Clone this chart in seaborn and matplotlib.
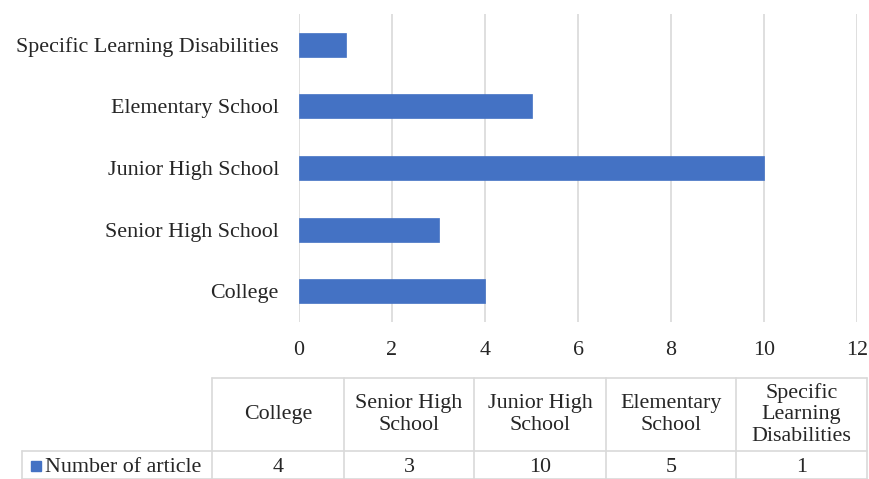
import matplotlib
matplotlib.use("Agg")
import matplotlib.pyplot as plt
from matplotlib.lines import Line2D
from matplotlib.patches import Rectangle
import seaborn as sns
import pandas as pd

# ---- data ----
categories = ["College", "Senior High School", "Junior High School",
              "Elementary School", "Specific Learning Disabilities"]
values = [4, 3, 10, 5, 1]
table_headers = ["College", "Senior High\nSchool", "Junior High\nSchool",
                 "Elementary\nSchool", "Specific\nLearning\nDisabilities"]
series_name = "Number of article"
x_ticks = [0, 2, 4, 6, 8, 10, 12]

BAR = "#4472C4"
GRID = "#D9D9D9"
FONT = "Liberation Serif"
FS = 15.8

sns.set_theme(style="white")
plt.rcParams["font.family"] = [FONT, "DejaVu Serif"]

W, H = 869, 479
fig = plt.figure(figsize=(W / 100, H / 100), dpi=100)
ax = fig.add_axes([299 / W, 1 - 322 / H, (857 - 299) / W, (322 - 14) / H])

df = pd.DataFrame({"category": categories, "value": values})
order = categories[::-1]
sns.barplot(data=df, x="value", y="category", order=order, orient="h",
            color=BAR, width=0.39, saturation=1, ax=ax, edgecolor=BAR, linewidth=0.5)

ax.set_xlim(0, 12)
ax.set_ylim(len(order) - 0.5, -0.5)
ax.set_xticks(x_ticks)
ax.set_xticklabels([str(t) for t in x_ticks])
ax.grid(axis="x", color=GRID, linewidth=1.2)
ax.set_axisbelow(True)
for s in ax.spines.values():
    s.set_visible(False)
ax.tick_params(axis="x", length=0, pad=14, labelsize=FS, labelcolor="#262626")
ax.tick_params(axis="y", length=0, pad=14.5, labelsize=FS, labelcolor="#262626")
ax.set_xlabel("")
ax.set_ylabel("")

# ---- data table ----
def fx(x):
    return x / W

def fy(y):
    return 1 - y / H

def hline(x0, x1, y):
    fig.add_artist(Line2D([fx(x0), fx(x1)], [fy(y), fy(y)], color=GRID, lw=1.2))

def vline(x, y0, y1):
    fig.add_artist(Line2D([fx(x), fx(x)], [fy(y0), fy(y1)], color=GRID, lw=1.2))

col_edges = [212, 344, 474, 606, 736, 867]
top_y, mid_y, bot_y = 378, 451, 479
hline(col_edges[0], col_edges[-1], top_y)
hline(22, col_edges[-1], mid_y)
hline(22, col_edges[-1], bot_y - 0.5)
for xe in col_edges:
    vline(xe, top_y, bot_y)
vline(22, mid_y, bot_y)

for i, (hdr, v) in enumerate(zip(table_headers, values)):
    cx = (col_edges[i] + col_edges[i + 1]) / 2
    fig.text(fx(cx), fy((top_y + mid_y) / 2), hdr, ha="center", va="center",
             fontsize=FS, linespacing=1.2, color="#262626")
    fig.text(fx(cx), fy(467), str(v), ha="center", va="center",
             fontsize=FS, color="#262626")

fig.add_artist(Rectangle((fx(31), fy(471)), 10 / W, 10 / H, color=BAR))
fig.text(fx(45), fy(467), series_name, ha="left", va="center",
         fontsize=FS, color="#262626")

fig.savefig("out.png", dpi=100)
